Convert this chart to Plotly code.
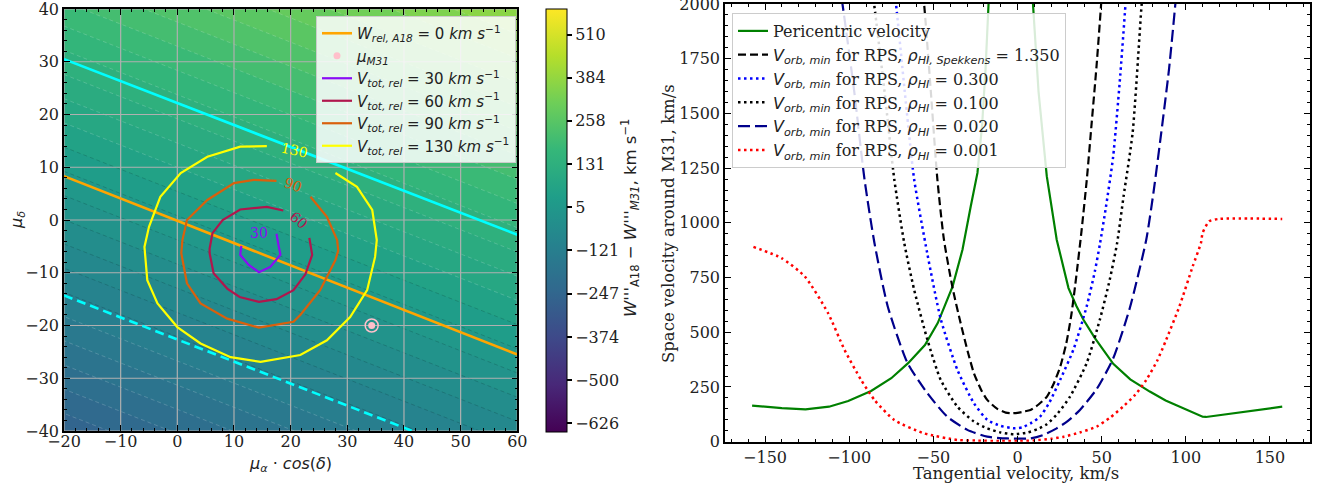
import plotly.graph_objects as go

W, H = 1329, 487
SERIF = "DejaVu Serif"
SANS = "DejaVu Sans"

# ---------------- left panel data ----------------
grid_x = [-20, 60]
grid_y = [-40, 40]
w_diff = [[-266, -81], [174, 359]]          # W'''A18 - W'''M31 at the corners
cb_min, cb_max, cb_step = -651.5, 585.2, 25.24
cb_ticks = [-626, -500, -374, -247, -121, 5, 131, 258, 384, 510]

wrel0_x = [-20, 60]
wrel0_y = [8.3, -25.5]
cyan_up_x = [-20, 60]
cyan_up_y = [30.5, -2.8]
cyan_dn_x = [-20, 41.5]
cyan_dn_y = [-14.3, -40]

m31_x = [34.3]
m31_y = [-20.0]

v30_x = [11.3, 11.1, 12.6, 14.4, 16.4, 18.2, 17.9, 17.5]
v30_y = [-4.9, -6.6, -8.5, -9.9, -8.9, -6.6, -5.0, -2.6]

v60_x = [23.3, 23.8, 22.6, 20.5, 17.5, 14.4, 11.0, 8.8, 6.4, 5.7, 5.7, 6.2, 8.0, 11.1, 15.8, 18.7]
v60_y = [-3.4, -6.6, -10.3, -13.3, -15.0, -15.5, -14.6, -13.0, -10.1, -6.3, -5.4, -2.5, 0.0, 2.0, 2.5, 1.8]

v90_x = [23.5, 26.4, 28.2, 28.4, 27.9, 25.2, 21.7, 20.5, 14.4, 8.8, 4.1, 1.7, 0.7, 0.9, 1.7, 5.3, 10.0, 13.5, 17.5]
v90_y = [4.4, 0.6, -3.8, -5.8, -7.6, -13.3, -18.0, -19.3, -20.4, -18.7, -15.8, -12.0, -6.3, -3.8, 0.0, 3.8, 7.0, 7.6, 7.4]

v130_x = [27.9, 31.7, 34.4, 35.2, 34.9, 33.5, 30.5, 26.4, 21.7, 14.7, 9.4, 4.1, 0.0, -3.5, -5.3, -5.8, -5.8, -5.0, -3.0, 0.6, 5.3, 11.1, 15.8]
v130_y = [8.9, 6.3, 1.9, -3.8, -7.0, -13.3, -18.4, -22.8, -25.6, -26.9, -26.0, -23.4, -20.3, -15.8, -11.4, -6.3, -5.1, -1.3, 4.4, 8.9, 12.0, 13.9, 14.0]

contour_sets = [
    ("30", v30_x, v30_y, "#8a0cf5", 14.4, -2.4, 0),
    ("60", v60_x, v60_y, "#b0164d", 21.4, 0.0, 40),
    ("90", v90_x, v90_y, "#d9600c", 20.5, 6.6, 20),
    ("130", v130_x, v130_y, "#ffff00", 20.6, 13.3, 12),
]

# ---------------- right panel data ----------------
peri_x = [-157.7, -140, -126, -112, -100.6, -87, -75, -65, -55, -47.4, -38.6, -32.7, -27.8, -23.8, -21, -19, -17.2, -16]
peri_y = [165, 153, 148, 160, 186, 232, 290, 359, 442, 542, 709, 877, 1075, 1228, 1450, 1700, 2000, 2250]
peri2_x = [8.5, 9.2, 12.5, 17.4, 23.3, 30.3, 35, 39.2, 46, 56.9, 67, 78.6, 88, 98.3, 110, 112, 157.3]
peri2_y = [2250, 2000, 1600, 1213, 923, 702, 620, 557, 473, 356, 285, 229, 188, 153, 114, 113, 160]

spek_x = [-57, -55.5, -51.5, -47.6, -43.7, -38.5, -33.8, -29.5, -25.9, -21.5, -18, -12, -7, -3.5, 0, 4, 7.7, 12.5, 17.5, 21.5, 25.4, 29, 32, 35, 38, 41.2, 44, 47, 49.6, 50.5]
spek_y = [2100, 2000, 1600, 1198, 923, 700, 542, 410, 313, 235, 191, 150, 133, 130, 132, 138, 145, 170, 206, 265, 343, 450, 580, 760, 960, 1200, 1450, 1720, 1990, 2100]

r03_x = [-74, -72.2, -67, -61.4, -53.6, -45.6, -35.7, -25.9, -18, -10, -4, -1.3, 3, 8, 13.4, 19, 25.3, 33.2, 41.1, 46, 48.9, 52.5, 56.8, 60.7, 64.1, 65]
r03_y = [2100, 2000, 1600, 1198, 860, 560, 328, 176, 100, 72, 63, 61, 66, 85, 114, 180, 282, 420, 618, 780, 900, 1070, 1300, 1640, 1991, 2100]

r01_x = [-87, -85.2, -79, -73.2, -67.3, -61.4, -53.5, -45.6, -35.7, -25.9, -18, -10, -2.3, 6, 12, 17.4, 24, 31.2, 41.1, 48.9, 54.8, 59.2, 63, 68.4, 73.7, 75]
r01_y = [2100, 2000, 1600, 1198, 908, 694, 465, 282, 160, 92, 61, 42, 34, 42, 58, 80, 130, 206, 359, 557, 740, 908, 1120, 1411, 1991, 2100]

r002_x = [-106, -104, -97, -90.9, -85, -77.1, -65.3, -53.5, -41.7, -29.8, -18, -6.2, 7.6, 15, 23.3, 30, 37.1, 47, 56.8, 66.7, 76.5, 81, 85.4, 90, 93.8, 95]
r002_y = [2100, 2000, 1600, 1198, 908, 618, 359, 221, 114, 54, 23, 15, 15, 30, 61, 95, 145, 240, 380, 610, 923, 1150, 1411, 1700, 2000, 2100]

r0001_x = [-156.9, -140.2, -126.4, -112.6, -102.8, -92.9, -85, -73.2, -55.5, -35.7, -25, -10, 0, 10, 20, 27.5, 37, 47, 55, 62.7, 70, 76.5, 83, 88.3, 96.2, 104.1, 109, 110, 113.9, 119.8, 157.3]
r0001_y = [890, 839, 755, 588, 420, 282, 191, 99, 38, 8, 5, 3, 3, 6, 13, 23, 42, 69, 110, 160, 215, 282, 370, 465, 618, 801, 908, 954, 1007, 1018, 1018]

fig = go.Figure()

# background filled contour
fig.add_trace(go.Contour(
    x=grid_x, y=grid_y, z=w_diff, xaxis="x", yaxis="y",
    colorscale="Viridis", zmin=cb_min, zmax=cb_max, autocontour=False,
    contours=dict(start=cb_min, end=cb_max, size=cb_step, coloring="fill", showlines=False),
    line=dict(width=0), showlegend=False, hoverinfo="skip", showscale=False,
))

# colorbar carrier (continuous bar exactly cb_min..cb_max)
fig.add_trace(go.Scatter(
    x=[None], y=[None], mode="markers", xaxis="x", yaxis="y", showlegend=False, hoverinfo="skip",
    marker=dict(color=[cb_min], colorscale="Viridis", cmin=cb_min, cmax=cb_max, showscale=True,
                colorbar=dict(
                    x=546 / W, xanchor="left", y=(487 - 220.4) / H, yanchor="middle",
                    len=422.7 / H, lenmode="fraction", thickness=21, thicknessmode="pixels",
                    outlinewidth=1, outlinecolor="black", xpad=0, ypad=0,
                    tickvals=cb_ticks, ticktext=[str(t).replace("-", "−") for t in cb_ticks],
                    ticks="outside", ticklen=5, tickcolor="black", tickwidth=1.5,
                    tickfont=dict(family=SERIF, size=16, color="#222"),
                )),
))

# thin contour lines (light / dark / light)
def line_set(start, end, color):
    fig.add_trace(go.Contour(
        x=grid_x, y=grid_y, z=w_diff, xaxis="x", yaxis="y", autocontour=False,
        contours=dict(start=start, end=end, size=cb_step, coloring="none", showlines=True),
        line=dict(width=0.6, color=color, dash="4px,3px"), showscale=False, showlegend=False, hoverinfo="skip",
    ))

line_set(cb_min, cb_min + 20 * cb_step, "rgba(255,255,255,0.3)")
line_set(cb_min + 21 * cb_step, cb_min + 27 * cb_step, "rgba(0,0,0,0.25)")
line_set(cb_min + 28 * cb_step, cb_max, "rgba(255,255,255,0.3)")

# gridlines above the fill
xt_left = [-20, -10, 0, 10, 20, 30, 40, 50, 60]
yt_left = [-40, -30, -20, -10, 0, 10, 20, 30, 40]
gx, gy = [], []
for v in xt_left:
    gx += [v, v, None]
    gy += [-40, 40, None]
for v in yt_left:
    gx += [-20, 60, None]
    gy += [v, v, None]
fig.add_trace(go.Scatter(x=gx, y=gy, mode="lines", line=dict(color="#b0b0b0", width=1.2),
                         showlegend=False, hoverinfo="skip", xaxis="x", yaxis="y"))

# lines
fig.add_trace(go.Scatter(x=wrel0_x, y=wrel0_y, mode="lines", line=dict(color="#ffa500", width=2.6),
                         name="<i>W</i><sub><i>rel, A18</i></sub> = 0 <i>km s</i><sup>−1</sup>",
                         legend="legend", xaxis="x", yaxis="y"))
fig.add_trace(go.Scatter(x=cyan_up_x, y=cyan_up_y, mode="lines", line=dict(color="#00ffff", width=2.6),
                         showlegend=False, xaxis="x", yaxis="y"))
fig.add_trace(go.Scatter(x=cyan_dn_x, y=cyan_dn_y, mode="lines", line=dict(color="#00ffff", width=2.6, dash="9px,5px"),
                         showlegend=False, xaxis="x", yaxis="y"))
fig.add_trace(go.Scatter(x=m31_x, y=m31_y, mode="markers",
                         marker=dict(size=13, color="rgba(0,0,0,0)", line=dict(color="#ffc0cb", width=1.5)),
                         showlegend=False, xaxis="x", yaxis="y"))
fig.add_trace(go.Scatter(x=m31_x, y=m31_y, mode="markers",
                         marker=dict(size=7, color="#ffc0cb"),
                         name="<i>μ</i><sub><i>M31</i></sub>", legend="legend", xaxis="x", yaxis="y"))

annotations = []
for lab, cx, cy, col, lx, ly, ang in contour_sets:
    fig.add_trace(go.Scatter(x=cx, y=cy, mode="lines", line=dict(color=col, width=2.2),
                             name=f"<i>V</i><sub><i>tot, rel</i></sub> = {lab} <i>km s</i><sup>−1</sup>",
                             legend="legend", xaxis="x", yaxis="y"))
    annotations.append(dict(x=lx, y=ly, xref="x", yref="y", text=lab, showarrow=False, textangle=ang,
                            font=dict(family=SERIF, size=14, color=col)))

# right panel
def sp(name, x, y, color, width, dash, shape="spline"):
    fig.add_trace(go.Scatter(x=x, y=y, mode="lines", line=dict(color=color, width=width, dash=dash, shape=shape, smoothing=0.6),
                             name=name, legend="legend2", xaxis="x2", yaxis="y2", showlegend=name is not None))

vorb = "<span style='font-family:DejaVu Sans'><i>V</i><sub><i>orb, min</i></sub></span> for RPS, "
rho = "<span style='font-family:DejaVu Sans'><i>ρ</i><sub><i>HI</i></sub></span> = "
sp("Pericentric velocity", peri_x, peri_y, "#008000", 2.2, "solid", "linear")
fig.add_trace(go.Scatter(x=peri2_x, y=peri2_y, mode="lines", line=dict(color="#008000", width=2.2),
                         showlegend=False, xaxis="x2", yaxis="y2"))
sp(vorb + "<span style='font-family:DejaVu Sans'><i>ρ</i><sub><i>HI, Spekkens</i></sub></span> = 1.350",
   spek_x, spek_y, "#000000", 2.2, "8px,4px")
sp(vorb + rho + "0.300", r03_x, r03_y, "#0000ff", 2.5, "2.5px,3.5px")
sp(vorb + rho + "0.100", r01_x, r01_y, "#000000", 2.5, "2.5px,3.5px")
sp(vorb + rho + "0.020", r002_x, r002_y, "#00008b", 2.2, "12px,5px")
sp(vorb + rho + "0.001", r0001_x, r0001_y, "#ff0000", 2.5, "2.5px,3.5px")

# axis titles
def title(x, y, text, fam, size, angle=0):
    annotations.append(dict(x=x / W, y=(487 - y) / H, xref="paper", yref="paper", text=text,
                            xanchor="center", yanchor="middle", showarrow=False, textangle=angle,
                            font=dict(family=fam, size=size, color="#222")))

title(17, 220, "<i>μ</i><sub><i>δ</i></sub>", SANS, 16, -90)
title(290, 464, "<i>μ</i><sub><i>α</i></sub> · <i>cos</i>(<i>δ</i>)", SANS, 16)
title(630, 218, "<i>W'''</i><sub>A18</sub> − <i>W'''</i><sub><i>M31</i></sub>, km s<sup>−1</sup>", SANS, 16.5, -90)
title(668, 224, "Space velocity around M31, km/s", SERIF, 16.5, -90)
title(1016, 473, "Tangential velocity, km/s", SERIF, 16.5)

axis_common = dict(showline=True, linecolor="black", linewidth=1.5, mirror="ticks", ticks="inside",
                   ticklen=6, tickwidth=1.3, tickcolor="black", zeroline=False, automargin=False,
                   tickangle=0, ticklabeloverflow="allow", tickfont=dict(family=SERIF, size=16, color="#222"))

xaxis_left = dict(domain=[64 / W, 517.3 / W], range=[-20, 60], tickvals=xt_left, showgrid=False,
                  minor=dict(ticks="inside", ticklen=3, dtick=2, tickcolor="black", showgrid=False),
                  layer="above traces", anchor="y", **axis_common)

fig.update_layout(
    width=W, height=H, autosize=False, margin=dict(l=0, r=0, t=0, b=0, pad=0, autoexpand=False),
    paper_bgcolor="white", plot_bgcolor="white",
    xaxis=xaxis_left,
    yaxis=dict(domain=[(487 - 431) / H, (487 - 9) / H], range=[-40, 40], tickvals=yt_left, showgrid=False,
               minor=dict(ticks="inside", ticklen=3, dtick=2, tickcolor="black", showgrid=False),
               layer="above traces", anchor="x", **axis_common),
    xaxis2=dict(domain=[725 / W, 1310 / W], range=[-173.8, 173.8], tickvals=[-150, -100, -50, 0, 50, 100, 150],
                showgrid=False, minor=dict(ticks="inside", ticklen=3, dtick=10, tickcolor="black"),
                anchor="y2", **axis_common),
    yaxis2=dict(domain=[(487 - 441.7) / H, (487 - 4) / H], range=[0, 2000],
                tickvals=[0, 250, 500, 750, 1000, 1250, 1500, 1750, 2000],
                showgrid=False, minor=dict(ticks="inside", ticklen=3, dtick=50, tickcolor="black"),
                anchor="x2", **axis_common),
    legend=dict(x=316 / W, y=(487 - 16) / H, xanchor="left", yanchor="top",
                bgcolor="rgba(255,255,255,0.85)", bordercolor="#cccccc", borderwidth=1,
                font=dict(family=SANS, size=15, color="#222"), tracegroupgap=0, itemwidth=30),
    legend2=dict(x=732 / W, y=(487 - 13) / H, xanchor="left", yanchor="top",
                 bgcolor="rgba(255,255,255,0.85)", bordercolor="#cccccc", borderwidth=1,
                 font=dict(family=SERIF, size=16, color="#222"), tracegroupgap=0, itemwidth=30),
    annotations=annotations,
)

try:
    fig.update_xaxes(ticklabelstandoff=-5, selector=dict(anchor="y"))
except Exception:
    pass

fig.write_html("out.html")
